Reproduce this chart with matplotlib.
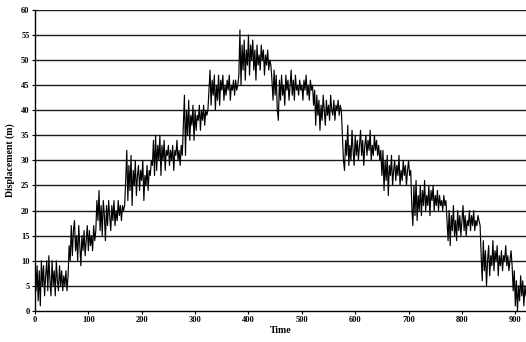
import numpy as np
import matplotlib
matplotlib.use("Agg")
import matplotlib.pyplot as plt

# displacement readings, one every 2 time units, grouped by step
seg1 = [11, 4, 9, 2, 8, 1, 10, 5, 9, 3, 7, 10, 4, 11, 6, 3, 10, 5, 8, 3,
        10, 6, 4, 9, 5, 8, 4, 7, 5, 8, 4, 7]
seg2 = [13, 10, 17, 11, 16, 18, 12, 15, 10, 17, 13, 9, 15, 12, 16, 11, 14, 17, 12, 16,
        13, 15, 12, 17, 14, 16]
seg3 = [22, 18, 24, 16, 21, 15, 22, 19, 14, 21, 17, 22, 19, 16, 21, 18, 22, 17, 20, 18,
        22, 19, 21, 18, 21, 20, 21]
seg4 = [26, 32, 22, 29, 24, 31, 21, 28, 25, 30, 23, 27, 29, 24, 28, 26, 30, 22, 27, 25,
        29, 24, 28, 27, 30]
seg5 = [29, 34, 27, 35, 28, 33, 30, 35, 27, 33, 30, 34, 28, 32, 31, 33, 29, 32, 30, 33,
        28, 32, 31, 34, 30, 32, 29, 33, 31]
seg6 = [37, 43, 31, 40, 35, 42, 34, 39, 37, 41, 34, 40, 36, 39, 38, 41, 36, 40, 38, 41,
        37, 40, 39, 40]
seg7 = [44, 48, 41, 46, 43, 47, 40, 45, 42, 47, 41, 46, 44, 47, 42, 45, 43, 46, 44, 47,
        42, 45, 44, 46, 43, 46, 44, 45]
seg8 = [47, 56, 45, 53, 48, 54, 46, 52, 49, 55, 47, 53, 50, 54, 48, 52, 46, 53, 49, 51,
        48, 53, 50, 52, 47, 51, 49, 52, 48, 50, 49]
seg9 = [46, 42, 48, 43, 47, 40, 38, 46, 42, 47, 43, 45, 41, 47, 44, 46, 42, 45, 48, 43,
        46, 42, 47, 44, 45, 43, 46, 44, 45, 42, 46, 44, 47, 43, 45, 42, 46, 44, 45]
seg10 = [41, 44, 37, 43, 39, 42, 36, 41, 38, 43, 40, 37, 42, 39, 41, 38, 43, 40, 39, 42,
         38, 41, 40, 42, 39, 41, 40]
seg11 = [35, 30, 28, 34, 31, 37, 29, 33, 30, 36, 32, 29, 35, 31, 34, 30, 33, 36, 31, 34,
         29, 33, 35, 31, 34, 32, 36, 30, 33, 31, 35, 32, 34, 31, 33, 30, 32]
seg12 = [27, 32, 24, 30, 26, 31, 23, 29, 27, 31, 25, 28, 30, 26, 29, 27, 31, 25, 28, 26,
         30, 27, 29, 25, 28, 30, 27, 28]
seg13 = [21, 17, 25, 19, 26, 18, 23, 20, 25, 19, 24, 21, 26, 20, 23, 21, 25, 19, 24, 22,
         25, 20, 23, 21, 24, 20, 23, 21, 22, 20, 23, 21, 22]
seg14 = [18, 14, 20, 13, 19, 16, 21, 15, 18, 14, 20, 16, 19, 15, 18, 21, 16, 19, 15, 18,
         17, 20, 16, 19, 17, 20, 16, 18, 17, 19, 18, 17]
seg15 = [11, 6, 14, 8, 12, 5, 10, 13, 7, 11, 9, 14, 8, 12, 10, 13, 7, 11, 9, 12,
         8, 11, 10, 13, 9, 11, 8, 10, 12, 9]
seg16 = [4, 8, 1, 6, 0, 5, 2, 7, 3, 6, 1, 5, 3]

segments = [seg1, seg2, seg3, seg4, seg5, seg6, seg7, seg8,
            seg9, seg10, seg11, seg12, seg13, seg14, seg15, seg16]
disp = np.concatenate([np.array(s, dtype=float) for s in segments])
time = np.arange(len(disp)) * 2.0

xticks = list(range(0, 1000, 100))
yticks = list(range(0, 65, 5))

plt.rcParams['font.family'] = ['Liberation Serif', 'DejaVu Serif']

fig = plt.figure(figsize=(5.26, 3.42), dpi=100)
ax = fig.add_axes([0.0665, 0.091, 0.9335, 0.88])

for y in yticks[1:]:
    ax.axhline(y, color='#1a1a1a', lw=1.0, zorder=1)

ax.plot(time, disp, color='black', lw=0.85, zorder=3)

ax.set_xlim(0, 920)
ax.set_ylim(0, 60)
ax.set_xticks(xticks)
ax.set_yticks(yticks)
ax.tick_params(labelsize=6, length=2, width=0.8, pad=2)
for lab in ax.get_xticklabels() + ax.get_yticklabels():
    lab.set_fontweight('bold')

ax.spines['top'].set_visible(False)
ax.spines['right'].set_visible(False)
ax.spines['left'].set_linewidth(1.0)
ax.spines['bottom'].set_linewidth(1.0)

ax.set_xlabel("Time", fontsize=7, fontweight='bold', labelpad=1)
ax.set_ylabel("Displacement (m)", fontsize=7, fontweight='bold', labelpad=4)

fig.savefig("out.png", dpi=100)
